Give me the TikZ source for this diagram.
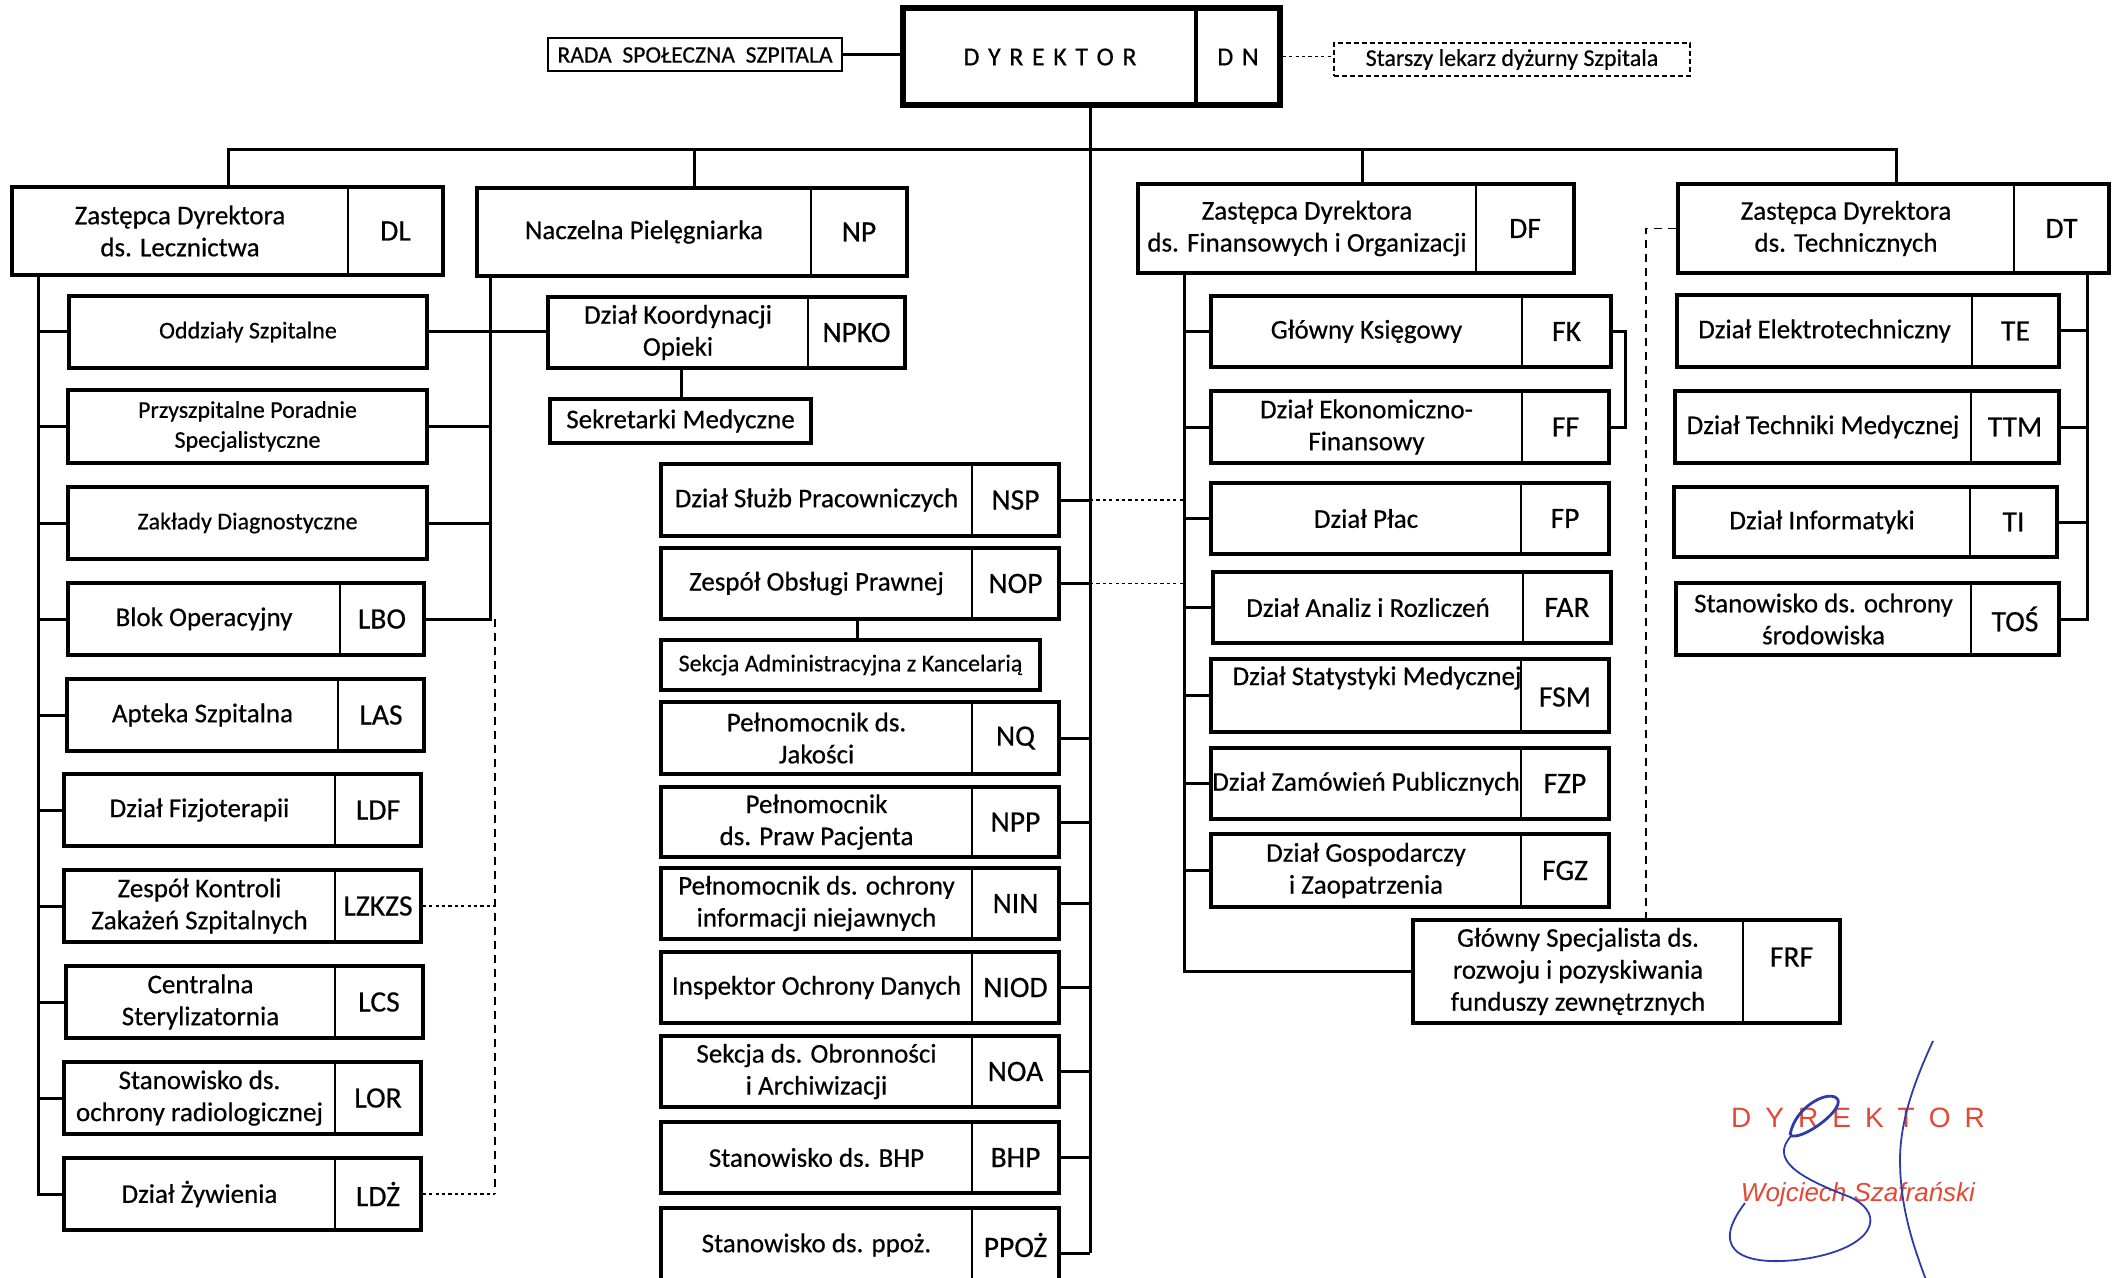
\documentclass[tikz,border=0pt]{standalone}
\usepackage{fontspec}
\setmainfont{Carlito}[FakeBold=0.45]
\newfontfamily\stampfont{Liberation Sans}
\usetikzlibrary{fit}
\definecolor{stampred}{RGB}{228,72,52}
\definecolor{sigblue}{RGB}{45,60,170}
\tikzset{
 obox/.style={draw, line width=1.8pt, inner sep=0pt},
 thinbox/.style={draw, line width=0.8pt, inner sep=0pt},
 dirbox/.style={draw, line width=2.8pt, inner sep=0pt},
 conn/.style={line width=1.5pt},
 divline/.style={line width=1.4pt},
 dotline/.style={line width=0.9pt, dash pattern=on 1.6pt off 1.6pt},
 dashv/.style={line width=0.7pt, dash pattern=on 4pt off 3pt},
 txt/.style={font=\fontsize{13.5}{16}\selectfont, align=center, inner sep=0pt},
 smalltxt/.style={font=\fontsize{12}{15}\selectfont, align=center, inner sep=0pt},
 abbr/.style={font=\fontsize{14.8}{16}\selectfont, inner sep=0pt},
}
% name, x1, y1, x2, y2, xdiv, text, abbr
\newcommand\obox[8]{%
  \node[obox, fit={(#2,#3) (#4,#5)}] (#1) {};
  \draw[divline] (#6,#3) -- (#6,#5);
  \node[txt] (#1-t) at ({(#2+#6)/2},{(#3+#5)/2}) {#7};
  \node[abbr] (#1-a) at ({(#6+#4)/2},{(#3+#5)/2}) {#8};
}
% style, name, x1, y1, x2, y2, text
\newcommand\pbox[7]{%
  \node[#1, fit={(#3,#4) (#5,#6)}] (#2) {};
  \node[smalltxt] (#2-t) at ({(#3+#5)/2},{(#4+#6)/2}) {#7};
}
\begin{document}
\begin{tikzpicture}[x=0.5pt,y=-0.5pt]
\useasboundingbox (0,0) rectangle (2113,1278);
\clip (0,0) rectangle (2113,1278);
\fill[white] (0,0) rectangle (2113,1278);

% ---- top ----
\node[dirbox, fit={(903,8) (1280,105)}] (dyr) {};
\draw[line width=2.2pt] (1196,8) -- (1196,105);
\node[txt, font=\fontsize{13}{15}\selectfont] (dyr-t) at (1050,57) {\spaceskip=0.33em D Y R E K T O R};
\node[txt, font=\fontsize{13}{15}\selectfont] (dyr-a) at (1238,57) {\spaceskip=0.33em D N};

\node[thinbox, fit={(548,38) (842,71)}] (rada) {};
\node[smalltxt, font=\fontsize{11.8}{15}\selectfont] (rada-t) at (695,55) {RADA\ \ SPOŁECZNA\ \ SZPITALA};
\node[draw, line width=0.8pt, dash pattern=on 2.5pt off 1.5pt, inner sep=0pt, fit={(1334,43) (1690,76)}] (starszy) {};
\node[txt, font=\fontsize{12}{14}\selectfont] (starszy-t) at (1512,59.5) {Starszy lekarz dyżurny Szpitala};

% ---- level 1 ----
\obox{dl}{12}{187}{443}{275}{348}{Zastępca Dyrektora\\ds. Lecznictwa}{DL}
\obox{np}{477}{188}{907}{276}{811}{Naczelna Pielęgniarka}{NP}
\obox{df}{1138}{184}{1574}{273}{1476}{Zastępca Dyrektora\\ds. Finansowych i Organizacji}{DF}
\obox{dt}{1678}{184}{2109}{273}{2014}{Zastępca Dyrektora\\ds. Technicznych}{DT}

% ---- left column ----
\pbox{obox}{oddz}{69}{296}{427}{368}{Oddziały Szpitalne}
\pbox{obox}{przy}{68}{390}{427}{463}{Przyszpitalne Poradnie\\Specjalistyczne}
\pbox{obox}{zakl}{68}{487}{427}{559}{Zakłady Diagnostyczne}
\obox{lbo}{68}{583}{424}{655}{340}{Blok Operacyjny}{LBO}
\obox{las}{67}{679}{424}{751}{338}{Apteka Szpitalna}{LAS}
\obox{ldf}{64}{774}{421}{846}{335}{Dział Fizjoterapii}{LDF}
\obox{lzkzs}{64}{870}{421}{942}{335}{Zespół Kontroli\\Zakażeń Szpitalnych}{LZKZS}
\obox{lcs}{66}{966}{423}{1038}{335}{Centralna\\Sterylizatornia}{LCS}
\obox{lor}{64}{1062}{421}{1134}{335}{Stanowisko ds.\\ochrony radiologicznej}{LOR}
\obox{ldz}{64}{1158}{421}{1230}{335}{Dział Żywienia}{LDŻ}

% ---- NP column ----
\obox{npko}{548}{297}{905}{368}{808}{Dział Koordynacji\\Opieki}{NPKO}
\node[obox, fit={(550,399) (811,443)}] (sekr) {};
\node[txt] (sekr-t) at (680.5,421) {Sekretarki Medyczne};

% ---- middle column ----
\obox{nsp}{661}{464}{1059}{536}{972}{Dział Służb Pracowniczych}{NSP}
\obox{nop}{661}{548}{1059}{619}{972}{Zespół Obsługi Prawnej}{NOP}
\pbox{obox}{sekcja}{661}{640}{1040}{690}{Sekcja Administracyjna z Kancelarią}
\obox{nq}{661}{702}{1059}{774}{972}{Pełnomocnik ds.\\Jakości}{NQ}
\obox{npp}{661}{787}{1059}{857}{972}{Pełnomocnik\\ds. Praw Pacjenta}{NPP}
\obox{nin}{661}{868}{1059}{939}{972}{Pełnomocnik ds. ochrony\\informacji niejawnych}{NIN}
\obox{niod}{661}{952}{1059}{1023}{972}{Inspektor Ochrony Danych}{NIOD}
\obox{noa}{661}{1036}{1059}{1107}{972}{Sekcja ds. Obronności\\i Archiwizacji}{NOA}
\obox{bhp}{661}{1122}{1059}{1193}{972}{Stanowisko ds. BHP}{BHP}
\obox{ppoz}{661}{1208}{1059}{1282}{972}{Stanowisko ds. ppoż.}{PPOŻ}

% ---- DF column ----
\obox{fk}{1211}{296}{1611}{367}{1522}{Główny Księgowy}{FK}
\obox{ff}{1211}{391}{1609}{463}{1522}{Dział Ekonomiczno-\\Finansowy}{FF}
\obox{fp}{1211}{483}{1609}{554}{1521}{Dział Płac}{FP}
\obox{far}{1213}{572}{1611}{643}{1523}{Dział Analiz i Rozliczeń}{FAR}
\node[obox, fit={(1211,659) (1609,732)}] (fsm) {};
\draw[divline] (1521,659) -- (1521,732);
\node[txt] (fsm-t) at (1377,678) {Dział Statystyki Medycznej};
\node[abbr] (fsm-a) at (1565,697) {FSM};
\obox{fzp}{1211}{748}{1609}{819}{1521}{Dział Zamówień Publicznych}{FZP}
\obox{fgz}{1211}{834}{1609}{907}{1521}{Dział Gospodarczy\\i Zaopatrzenia}{FGZ}
\node[obox, fit={(1413,920) (1840,1023)}] (frf) {};
\draw[divline] (1743,920) -- (1743,1023);
\node[txt] (frf-t) at (1578,971.5) {Główny Specjalista ds.\\rozwoju i pozyskiwania\\funduszy zewnętrznych};
\node[abbr] (frf-a) at (1791.5,957) {FRF};

% ---- DT column ----
\obox{te}{1677}{295}{2059}{367}{1972}{Dział Elektrotechniczny}{TE}
\obox{ttm}{1675}{391}{2059}{463}{1971}{Dział Techniki Medycznej}{TTM}
\obox{ti}{1674}{487}{2057}{557}{1970}{Dział Informatyki}{TI}
\obox{tos}{1676}{583}{2059}{655}{1971}{Stanowisko ds. ochrony\\środowiska}{TOŚ}

% ---- coordinates ----
\coordinate (xdl) at (228,150);
\coordinate (xnp) at (694,150);
\coordinate (xtr) at (1090,150);
\coordinate (xdf) at (1362,150);
\coordinate (xdt) at (1896,150);
\coordinate (trend) at (1090,1253);
\coordinate (ldx) at (38,0);
\coordinate (npx) at (490,0);
\coordinate (dsx) at (495,0);
\coordinate (skx) at (681,0);
\coordinate (sax) at (857,0);
\coordinate (dfx) at (1184,0);
\coordinate (dtx) at (2087,0);
\coordinate (ddx) at (1646,0);

% ---- connectors ----
\draw[line width=1.2pt] (rada.east) -- (rada.east -| dyr.west);
\draw[dotline] (dyr.east) -- (dyr.east -| starszy.west);

\draw[conn] (dl.north -| xdl) -- (xdl) -- (xdt) -- (dt.north -| xdt);
\draw[conn] (xnp) -- (np.north -| xnp);
\draw[conn] (xdf) -- (df.north -| xdf);
\draw[conn] (dyr.south -| xtr) -- (trend);

% left
\draw[conn] (dl.south -| ldx) -- (ldz.west -| ldx) -- (ldz.west);
\foreach \b in {oddz,przy,zakl,lbo,las,ldf,lzkzs,lcs,lor}
  \draw[conn] (\b.west) -- (\b.west -| ldx);

% NP
\draw[conn] (np.south -| npx) -- (lbo.east -| npx) -- (lbo.east);
\draw[conn] (oddz.east) -- (oddz.east -| npko.west);
\foreach \b in {przy,zakl}
  \draw[conn] (\b.east) -- (\b.east -| npx);
\draw[dashv] (lbo.east -| dsx) -- (ldz.east -| dsx);
\draw[dotline] (lzkzs.east) -- (lzkzs.east -| dsx);
\draw[dotline] (ldz.east) -- (ldz.east -| dsx);
\draw[conn] (npko.south -| skx) -- (sekr.north -| skx);

% middle
\foreach \b in {nsp,nop,nq,npp,nin,niod,noa,bhp}
  \draw[conn] (\b.east) -- (\b.east -| xtr);
\draw[conn] (ppoz.east |- trend) -- (trend);
\draw[dotline] (nsp.east -| xtr) -- (nsp.east -| dfx);
\draw[dotline] (nop.east -| xtr) -- (nop.east -| dfx);
\draw[conn] (nop.south -| sax) -- (sekcja.north -| sax);

% DF
\draw[conn] (df.south -| dfx) -- (frf.west -| dfx) -- (frf.west);
\foreach \b in {fk,ff,fp,far,fsm,fzp,fgz}
  \draw[conn] (\b.west) -- (\b.west -| dfx);
\draw[conn] (fk.east) -- ++(13,0) |- (ff.east);

% DT
\draw[conn] (dt.south -| dtx) -- (tos.east -| dtx) -- (tos.east);
\foreach \b in {te,ttm,ti}
  \draw[conn] (\b.east) -- (\b.east -| dtx);
\draw[dashv] (dt.west) -| (frf.north -| ddx);

% ---- stamp ----
\node[text=stampred, inner sep=0pt, font=\stampfont\fontsize{14}{16}\selectfont] (st1) at (1858,1118) {\spaceskip=7pt D Y R E K T O R};
\node[text=stampred, inner sep=0pt, font=\stampfont\itshape\fontsize{13}{16}\selectfont] (st2) at (1858,1195) {Wojciech Szafrański};
\draw[sigblue, line width=0.9pt] (1933,1041) .. controls (1915,1080) and (1900,1120) .. (1900,1160) .. controls (1900,1210) and (1915,1250) .. (1926,1280);
\draw[sigblue, line width=1.4pt] (1790,1135) .. controls (1795,1105) and (1832,1088) .. (1838,1100) .. controls (1842,1112) and (1800,1142) .. (1790,1135);
\draw[sigblue, line width=0.9pt] (1792,1135) .. controls (1768,1160) and (1800,1178) .. (1850,1197) .. controls (1888,1215) and (1872,1247) .. (1810,1258) .. controls (1750,1268) and (1705,1255) .. (1745,1203);
\end{tikzpicture}
\end{document}
